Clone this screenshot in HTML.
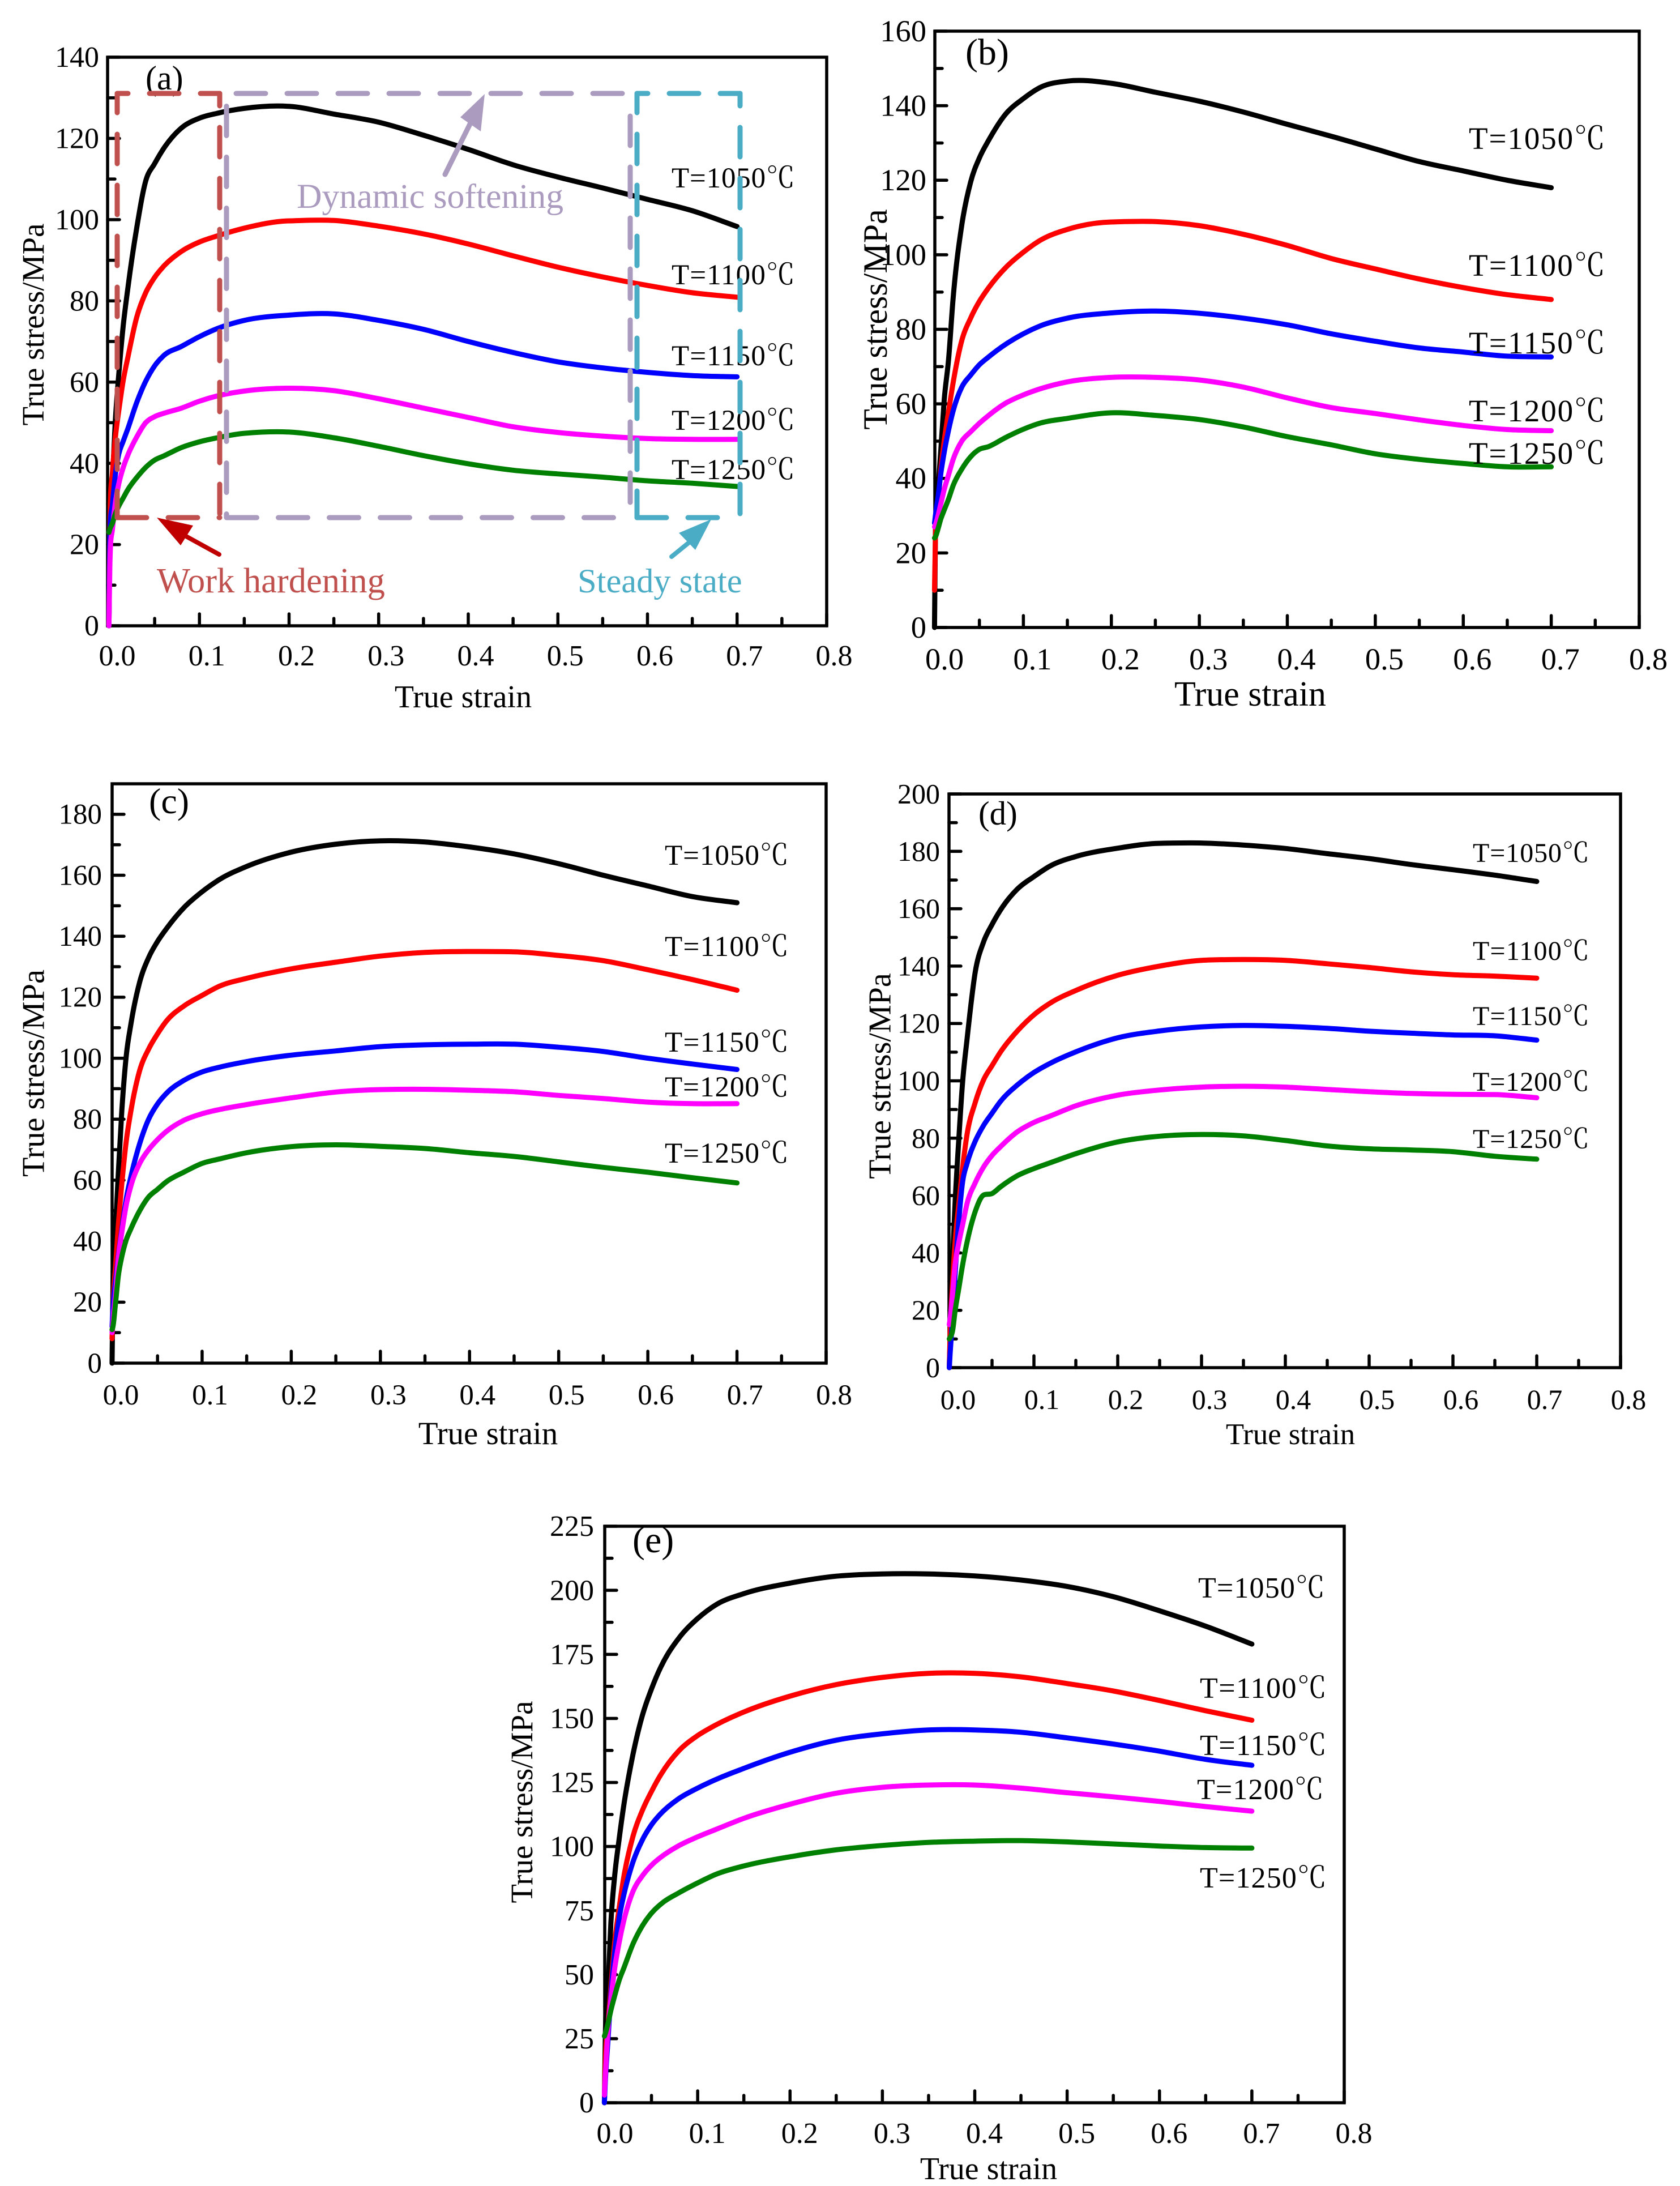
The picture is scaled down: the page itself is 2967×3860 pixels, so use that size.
<!DOCTYPE html>
<html lang="en">
<head>
<meta charset="utf-8">
<title>True stress-strain curves</title>
<style>
html,body{margin:0;padding:0;background:#fff;}
svg{display:block;}
text{font-family:"Liberation Serif","Noto Serif CJK SC",serif;fill:#000;}
.anno{fill:none;stroke-width:9;stroke-linecap:round;stroke-dasharray:52 38;}
</style>
</head>
<body>
<svg id="figure" xmlns="http://www.w3.org/2000/svg" width="2967" height="3860" viewBox="0 0 2967 3860">
  <rect x="0" y="0" width="2967" height="3860" fill="#fff"/>
  <g id="plots"></g>
  <g id="annotations">
    <g stroke="#c0504d">
      <path class="anno" d="M207 165H388" stroke-dashoffset="33"/>
      <path class="anno" d="M207 165V914" stroke-dashoffset="18"/>
      <path class="anno" d="M388 165V914" stroke-dashoffset="30"/>
      <path class="anno" d="M207 914H388" stroke-dashoffset="0"/>
    </g>
    <g stroke="#aa9bbf">
      <path class="anno" d="M417 165H1114"/>
      <path class="anno" d="M400 187.5V914"/>
      <path class="anno" d="M1113 205V914"/>
      <path class="anno" d="M401.5 914H1103"/>
    </g>
    <g stroke="#4bacc6">
      <path class="anno" d="M1125 165H1307" stroke-dashoffset="33"/>
      <path class="anno" d="M1125 165V914" stroke-dashoffset="18"/>
      <path class="anno" d="M1307 165V914" stroke-dashoffset="30"/>
      <path class="anno" d="M1125 914H1275" stroke-dashoffset="0"/>
    </g>
    <g>
      <line x1="786" y1="308" x2="832" y2="215" stroke="#aa9bbf" stroke-width="9" stroke-linecap="round"/>
      <polygon points="856,166 849,232 813,207" fill="#aa9bbf"/>
    </g>
    <g>
      <line x1="387" y1="979" x2="325" y2="945" stroke="#c00000" stroke-width="8" stroke-linecap="round"/>
      <polygon points="277,914 341,928 319,963" fill="#c00000"/>
    </g>
    <g>
      <line x1="1186" y1="983" x2="1218" y2="957" stroke="#4bacc6" stroke-width="8" stroke-linecap="round"/>
      <polygon points="1256,917 1199,941 1228,971" fill="#4bacc6"/>
    </g>
    <text x="524" y="367" font-size="61.7" style="fill:#aa9bbf">Dynamic softening</text>
    <text x="277" y="1046" font-size="62.5" style="fill:#c0504d">Work hardening</text>
    <text x="1020" y="1046" font-size="60.5" style="fill:#4bacc6">Steady state</text>
  </g>
</svg>
<script>
// Shared strain samples for every series
const strain = [-0.001,0,0.003,0.006,0.01,0.015,0.02,0.03,0.04,0.05,0.06,0.08,0.1,0.12,0.15,0.2,0.25,0.3,0.35,0.4,0.45,0.5,0.55,0.6,0.65,0.7];
const xTicks = [0,0.1,0.2,0.3,0.4,0.5,0.6,0.7,0.8];
const temperatures = ['T=1050℃','T=1100℃','T=1150℃','T=1200℃','T=1250℃'];

const yTicksA = [0,20,40,60,80,100,120,140];
const a1050 = [0,23,36,50,62,74,83,98,109.5,113.8,117.5,122.6,125,126.2,127.4,127.9,126,124,120.8,117.3,113.5,110.5,107.8,105,102.2,98.3];
const a1100 = [0,24,38,46,53,60.5,66,76,82,85.8,88.5,92.2,94.5,96,97.9,99.7,99.8,98.4,96.5,94,91.1,88.3,85.9,83.8,82,80.9];
const a1150 = [0,22,30,37,42.3,45.5,48.5,55,60.2,64,66.5,68.8,71.2,73.2,75.2,76.5,76.8,75.2,73,70,67.3,65,63.5,62.4,61.6,61.3];
const a1200 = [0,15,24,30,35,39,42,46.5,50,51.5,52.3,53.6,55.3,56.6,57.8,58.5,57.9,55.9,53.6,51.3,49,47.6,46.7,46.1,45.9,45.9];
const a1250 = [23,23.8,25.3,27.5,29.5,31.5,33.5,36.5,39,40.8,41.8,43.9,45.3,46.3,47.4,47.7,46.3,44.2,41.9,39.9,38.3,37.4,36.6,35.7,35.1,34.3];

const yTicksB = [0,20,40,60,80,100,120,140,160];
const b1050 = [0,25,37,47,61,72,88,108,119.5,126,130.5,137.8,141.9,145,146.6,146,143.6,141.2,138.3,135,131.8,128.4,125,122.5,120,118];
const b1100 = [10,24,33,42,50,58,65.5,77,83,87.5,91,96.6,100.7,104,106.8,108.8,108.9,107.8,105.5,102.5,99,96.2,93.5,91.2,89.3,88];
const b1150 = [28,30,35,41,47,53,58,64.5,67.7,70.5,72.5,76,78.8,81,83,84.4,84.9,84.3,83,81.2,78.8,76.8,75,73.9,72.8,72.6];
const b1200 = [27,27.5,30,33,37,41,45,50,52.5,54.8,56.8,60.2,62.4,64.1,65.9,67.1,67.1,66.4,64.5,61.6,59,57.4,55.7,54.2,53.1,52.8];
const b1250 = [24,24.3,26.5,29,31.5,34.5,38,42.5,45.8,47.8,48.5,51,53.2,54.9,56.1,57.6,56.9,55.8,53.8,51.2,49,46.6,45.1,44,43.1,43.1];

const yTicksC = [0,20,40,60,80,100,120,140,160,180];
const c1050 = [0,25,45,62,83,101,111,125,133,138.3,142.5,149.5,154.6,158.7,162.9,167.6,170.2,171.3,170.9,169.3,167,163.8,160,156.5,153,151];
const c1100 = [8,18,32,45,59,73,82.5,96,103,108,112.2,117.2,120.6,123.7,126.2,129.3,131.5,133.5,134.7,135,134.9,133.7,132,129,125.8,122.3];
const c1150 = [12,18,27,35,44,54,61,72,80,85,88.5,92.8,95.5,97.1,98.9,101,102.4,103.8,104.4,104.6,104.6,103.6,102.2,100,98.1,96.3];
const c1200 = [10,14,23,34,43,52,58,65.5,70,73.3,76,79.7,81.8,83.2,84.8,87,88.9,89.7,89.8,89.5,89,87.8,86.8,85.6,85.1,85.1];
const c1250 = [11,12,20,28.5,35,40.5,44,50,54.5,57,59.5,62.7,65.5,67,69,71,71.6,71.1,70.4,69,67.8,66,64.2,62.6,60.8,59.1];

const yTicksD = [0,20,40,60,80,100,120,140,160,180,200];
const d1050 = [0,10,38,58,78,100,114,138,148.5,154.5,159.5,166.8,171.2,175,178.2,181.1,182.8,182.9,182.2,181,179.2,177.5,175.4,173.6,171.7,169.5];
const d1100 = [0,12,30,44,56,70,81,92.5,100.4,105.3,110,117.3,123,127.2,131.5,136.8,140,142,142.3,142,140.8,139.5,138,137,136.5,135.8];
const d1150 = [0,5,18,33,50,65,71,79,84.5,88.7,92.8,98.5,102.9,106.2,110.1,115,117.4,118.8,119.3,119,118.3,117.3,116.6,116,115.7,114.2];
const d1200 = [15,17,26,36,43,50,57,64.5,70,74,77,82.2,85.5,87.8,91.3,95,96.8,97.8,98.1,97.8,97,96.2,95.6,95.3,95.2,94.1];
const d1250 = [10,10.5,13,20,27,36,43.5,54.5,60.2,60.7,63,66.9,69.4,71.5,74.6,78.7,80.7,81.3,80.8,79.2,77.3,76.3,75.9,75.3,73.7,72.7];

const yTicksE = [0,25,50,75,100,125,150,175,200,225];
const e1050 = [0,25,45,70,88,103,116,136,151,161.5,170,181.5,189,194.4,198.7,202.8,205.5,206.4,206.4,205.6,204,201.5,197.5,192,186,179];
const e1100 = [0,15,30,45,62,76,88,104,114,121.5,128,137.5,143.3,147.5,152.5,158.7,163.2,166,167.6,167.6,166.2,163.6,160.7,157,153,149.3];
const e1150 = [0,8,25,42,58,72,81,94,102.5,108.5,112.8,118.8,122.8,126.2,130.5,136.8,141.5,144,145.5,145.5,144.6,142.4,140,137.2,134,131.7];
const e1200 = [3,10,29,40,52,62.6,71,82.5,88.5,92.7,95.8,100.4,103.8,106.7,111,116.5,120.8,123.1,124,124,122.8,121,119.4,117.6,115.6,113.8];
const e1250 = [26,27,31,36,41.5,47.8,52.5,62,69,74,77.5,82,85.8,89.2,92.4,96,98.7,100.4,101.6,102.1,102.3,101.8,101,100.2,99.6,99.4];

const NS = 'http://www.w3.org/2000/svg';
const seriesColors = ['#000000','#ff0000','#0000ff','#ff00ff','#008000'];

const panels = [
  {id:'a', yTicks:yTicksA, series:[a1050,a1100,a1150,a1200,a1250], yMax:140,
   left:190,right:1460,top:101,bottom:1105,x0:194,tickFont:52,titleFont:56,yTitleFont:55,yTitleX:59,yTitleCy:573,xLabelOff:13,xLabelBase:1175,xTitleBase:1249,xTitleCx:818,yLabelRight:175,
   letter:'(a)',letterX:257,letterBase:158,letterFont:60,tempX:[1186,1186,1186,1186,1186],tempW:218,tempFont:51,tempBase:[331,502,645,759,846]},
  {id:'b', yTicks:yTicksB, series:[b1050,b1100,b1150,b1200,b1250], yMax:160,
   left:1651,right:2895,top:55,bottom:1108,x0:1652,tickFont:54.5,titleFont:62,yTitleFont:60,yTitleX:1546,yTitleCy:564,xLabelOff:16,xLabelBase:1182,xTitleBase:1246,xTitleCx:2208,yLabelRight:1636,
   letter:'(b)',letterX:1705,letterBase:114,letterFont:66,tempX:[2594,2594,2594,2594,2594],tempW:241,tempFont:55,tempBase:[263,487,624,744,819]},
  {id:'c', yTicks:yTicksC, series:[c1050,c1100,c1150,c1200,c1250], yMax:190,
   left:198,right:1459,top:1384,bottom:2407,x0:199.5,tickFont:51,titleFont:57,yTitleFont:56.4,yTitleX:59,yTitleCy:1895,xLabelOff:14,xLabelBase:2480,xTitleBase:2550,xTitleCx:862,yLabelRight:180,
   letter:'(c)',letterX:263,letterBase:1436,letterFont:64,tempX:[1174,1174,1174,1174,1174],tempW:219,tempFont:51,tempBase:[1527,1688,1857,1936,2053]},
  {id:'d', yTicks:yTicksD, series:[d1050,d1100,d1150,d1200,d1250], yMax:200,
   left:1676,right:2862,top:1402,bottom:2415,x0:1678,tickFont:50,titleFont:52.8,yTitleFont:56,yTitleX:1554,yTitleCy:1900,xLabelOff:14,xLabelBase:2488,xTitleBase:2550,xTitleCx:2279,yLabelRight:1660,
   letter:'(d)',letterX:1728,letterBase:1456,letterFont:59,tempX:[2601,2601,2601,2601,2601],tempW:206,tempFont:48,tempBase:[1522,1695,1810,1926,2027]},
  {id:'e', yTicks:yTicksE, series:[e1050,e1100,e1150,e1200,e1250], yMax:225,
   left:1068,right:2374,top:2695,bottom:3713,x0:1069,tickFont:52,titleFont:56,yTitleFont:55,yTitleX:922,yTitleCy:3182,xLabelOff:17,xLabelBase:3784,xTitleBase:3848,xTitleCx:1746,yLabelRight:1049,
   letter:'(e)',letterX:1117,letterBase:2741,letterFont:66,tempX:[2116,2119,2119,2114,2119],tempW:224,tempFont:52,tempBase:[2821,2998,3099,3177,3333]}
];

function smoothPath(xs, ys) {
  const n = xs.length, dx = [], m = [], t = new Array(n);
  for (let i = 0; i < n - 1; i++) { dx[i] = xs[i+1] - xs[i]; m[i] = (ys[i+1] - ys[i]) / dx[i]; }
  t[0] = m[0]; t[n-1] = m[n-2];
  for (let i = 1; i < n - 1; i++) {
    const p = (m[i-1] * dx[i] + m[i] * dx[i-1]) / (dx[i] + dx[i-1]);
    if (m[i-1] * m[i] <= 0) { t[i] = p; }
    else {
      const lim = 3 * Math.min(Math.abs(m[i-1]), Math.abs(m[i]));
      t[i] = Math.sign(p) * Math.min(Math.abs(p), lim);
    }
  }
  let d = 'M' + xs[0].toFixed(1) + ' ' + ys[0].toFixed(1);
  for (let i = 0; i < n - 1; i++) {
    const h = dx[i] / 3;
    d += 'C' + (xs[i] + h).toFixed(1) + ' ' + (ys[i] + t[i] * h).toFixed(1) + ' ' +
         (xs[i+1] - h).toFixed(1) + ' ' + (ys[i+1] - t[i+1] * h).toFixed(1) + ' ' +
         xs[i+1].toFixed(1) + ' ' + ys[i+1].toFixed(1);
  }
  return d;
}

function tickLine(parent, x1, y1, x2, y2) {
  const l = document.createElementNS(NS, 'line');
  l.setAttribute('x1', x1); l.setAttribute('y1', y1);
  l.setAttribute('x2', x2); l.setAttribute('y2', y2);
  l.setAttribute('stroke', '#000');
  l.setAttribute('stroke-width', '5.5');
  l.setAttribute('stroke-linecap', 'round');
  parent.appendChild(l);
  return l;
}

function textEl(parent, x, y, size, content) {
  const t = document.createElementNS(NS, 'text');
  t.setAttribute('x', x); t.setAttribute('y', y);
  t.setAttribute('font-size', size);
  t.textContent = content;
  parent.appendChild(t);
  return t;
}

const plots = document.getElementById('plots');

panels.forEach(function (p) {
  const scaleX = function (s) { return p.x0 + s * (p.right - p.x0) / 0.8; };
  const scaleY = function (v) { return p.bottom - v * (p.bottom - p.top) / p.yMax; };

  const g = document.createElementNS(NS, 'g');
  
  
  plots.appendChild(g);

  // major and minor x ticks
  xTicks.forEach(function (tv, i) {
    const major = tickLine(g, scaleX(tv), p.bottom, scaleX(tv), p.bottom - 21);
    
    
    const lab = textEl(g, scaleX(tv) + p.xLabelOff, p.xLabelBase, p.tickFont, tv.toFixed(1));
    lab.setAttribute('text-anchor', 'middle');
    
    
    if (i < xTicks.length - 1) {
      const mid = (tv + xTicks[i + 1]) / 2;
      const minor = tickLine(g, scaleX(mid), p.bottom, scaleX(mid), p.bottom - 13);
      
      
    }
  });

  // major and minor y ticks
  p.yTicks.forEach(function (tv, i) {
    const major = tickLine(g, p.left, scaleY(tv), p.left + 21, scaleY(tv));
    
    
    const lab = textEl(g, p.yLabelRight, scaleY(tv) + p.tickFont * 0.33, p.tickFont, String(tv));
    lab.setAttribute('text-anchor', 'end');
    
    
    const next = i < p.yTicks.length - 1 ? p.yTicks[i + 1] : null;
    const mid = next !== null ? (tv + next) / 2 : null;
    if (mid !== null) {
      const minor = tickLine(g, p.left, scaleY(mid), p.left + 13, scaleY(mid));
      
      
    }
  });

  // series
  p.series.forEach(function (vals, i) {
    const xs = strain.map(scaleX);
    const ys = vals.map(scaleY);
    const path = document.createElementNS(NS, 'path');
    path.setAttribute('d', smoothPath(xs, ys));
    path.setAttribute('fill', 'none');
    path.setAttribute('stroke', seriesColors[i]);
    path.setAttribute('stroke-width', '9');
    path.setAttribute('stroke-linecap', 'round');
    path.setAttribute('stroke-linejoin', 'round');
    
    
    g.appendChild(path);
  });

  // frame
  const frame = document.createElementNS(NS, 'rect');
  frame.setAttribute('x', p.left);
  frame.setAttribute('y', p.top);
  frame.setAttribute('width', p.right - p.left);
  frame.setAttribute('height', p.bottom - p.top);
  frame.setAttribute('fill', 'none');
  frame.setAttribute('stroke', '#000');
  frame.setAttribute('stroke-width', '5.5');
  
  
  g.insertBefore(frame, g.querySelector('path'));

  // temperature labels
  temperatures.forEach(function (label, i) {
    const t = textEl(g, p.tempX[i], p.tempBase[i], p.tempFont, label);
    t.setAttribute('textLength', p.tempW);
    
    
  });

  const letter = textEl(g, p.letterX, p.letterBase, p.letterFont, p.letter);
  
  

  const xTitle = textEl(g, p.xTitleCx, p.xTitleBase, p.titleFont, 'True strain');
  xTitle.setAttribute('text-anchor', 'middle');
  
  

  const yTitle = textEl(g, 0, 0, p.yTitleFont, 'True stress/MPa');
  yTitle.setAttribute('text-anchor', 'middle');
  yTitle.setAttribute('transform', 'translate(' + (p.yTitleX + p.yTitleFont * 0.33) + ' ' + p.yTitleCy + ') rotate(-90)');
  
  
});
</script>
</body>
</html>
